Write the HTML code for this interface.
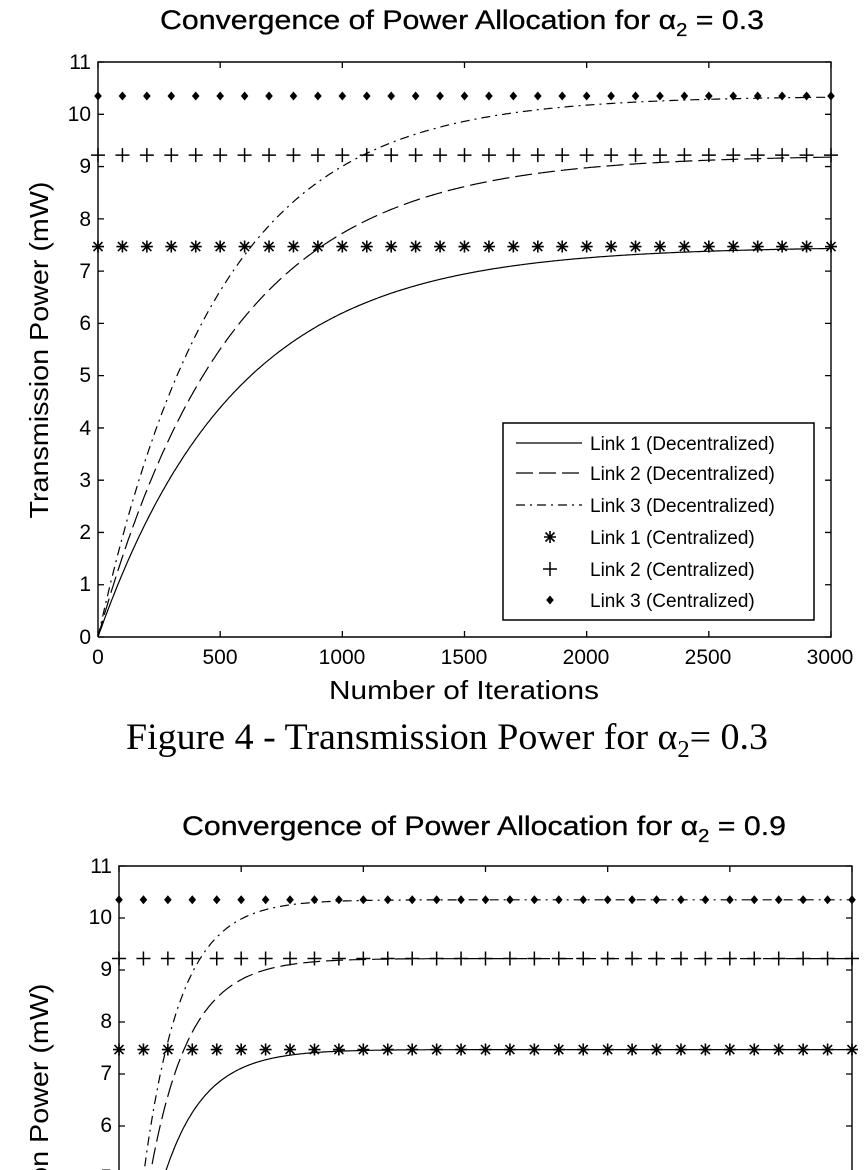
<!DOCTYPE html>
<html><head><meta charset="utf-8"><style>
html,body{margin:0;padding:0;background:#fff;overflow:hidden;width:865px;height:1170px;}
svg{display:block;}
text{font-family:"Liberation Sans",Arial,sans-serif;fill:#000;}
.serif{font-family:"Liberation Serif","Times New Roman",serif;}
</style></head><body>
<svg id="s" width="865" height="1170" viewBox="0 0 865 1170" xmlns="http://www.w3.org/2000/svg" overflow="hidden">
<rect width="865" height="1170" fill="#fff"/>
<!-- Top chart texts -->
<text x="160" y="29" font-size="27" textLength="604" lengthAdjust="spacingAndGlyphs" stroke="#000" stroke-width="0.3">Convergence of Power Allocation for α<tspan font-size="18" dy="7">2</tspan><tspan dy="-7"> = 0.3</tspan></text>
<g font-size="21" text-anchor="end">
<text x="91" y="69">11</text><text x="91" y="121">10</text><text x="91" y="173">9</text><text x="91" y="226">8</text><text x="91" y="278">7</text><text x="91" y="330">6</text><text x="91" y="382">5</text><text x="91" y="435">4</text><text x="91" y="487">3</text><text x="91" y="539">2</text><text x="91" y="591">1</text><text x="91" y="644">0</text>
</g>
<g font-size="21" text-anchor="middle">
<text x="98" y="664">0</text><text x="220" y="664">500</text><text x="342" y="664">1000</text><text x="464" y="664">1500</text><text x="586" y="664">2000</text><text x="708" y="664">2500</text><text x="830" y="664">3000</text>
</g>
<text x="329" y="699" font-size="26" textLength="270" lengthAdjust="spacingAndGlyphs">Number of Iterations</text>
<text transform="translate(48,350) rotate(-90)" font-size="26" text-anchor="middle" textLength="337" lengthAdjust="spacingAndGlyphs">Transmission Power (mW)</text>
<text class="serif" x="126" y="749" font-size="37" textLength="642" lengthAdjust="spacingAndGlyphs">Figure 4 - Transmission Power for α<tspan font-size="24" dy="8">2</tspan><tspan dy="-8">= 0.3</tspan></text>
<!-- Bottom chart texts -->
<text x="182" y="835" font-size="27" textLength="604" lengthAdjust="spacingAndGlyphs" stroke="#000" stroke-width="0.3">Convergence of Power Allocation for α<tspan font-size="18" dy="7">2</tspan><tspan dy="-7"> = 0.9</tspan></text>
<g font-size="21" text-anchor="end">
<text x="112" y="873">11</text><text x="112" y="924">10</text><text x="112" y="976">9</text><text x="112" y="1028">8</text><text x="112" y="1080">7</text><text x="112" y="1132">6</text><text x="112" y="1184">5</text>
</g>
<text transform="translate(48,1152) rotate(-90)" font-size="26" text-anchor="middle" textLength="337" lengthAdjust="spacingAndGlyphs">Transmission Power (mW)</text>
<g id="plots"></g>
<!-- Legend -->
<rect x="503" y="423" width="311" height="197" fill="#fff" stroke="#000" stroke-width="1.5"/>
<g stroke="#000" stroke-width="1.2" fill="none">
<line x1="516" y1="443" x2="582" y2="443"/>
<line x1="516" y1="473" x2="582" y2="473" stroke-dasharray="17,6"/>
<line x1="516" y1="505" x2="582" y2="505" stroke-dasharray="9,5,2,5"/>
</g>
<g id="legm"></g>
<g font-size="19">
<text x="590" y="450">Link 1 (Decentralized)</text>
<text x="590" y="480">Link 2 (Decentralized)</text>
<text x="590" y="512">Link 3 (Decentralized)</text>
<text x="590" y="544">Link 1 (Centralized)</text>
<text x="590" y="576">Link 2 (Centralized)</text>
<text x="590" y="607">Link 3 (Centralized)</text>
</g>
</svg>
<script>
(function(){
var NS="http://www.w3.org/2000/svg";
var plots=document.getElementById("plots");
function el(tag,attrs,parent){var e=document.createElementNS(NS,tag);for(var k in attrs)e.setAttribute(k,attrs[k]);(parent||plots).appendChild(e);return e;}
function star(x,y,p){var d="M"+(x-6)+" "+y+"h12M"+x+" "+(y-6)+"v12M"+(x-4.5)+" "+(y-4.5)+"l9 9M"+(x-4.5)+" "+(y+4.5)+"l9 -9";el("path",{d:d,stroke:"#000","stroke-width":1.6,fill:"none"},p);}
function plus(x,y,p){var d="M"+(x-7)+" "+y+"h14M"+x+" "+(y-7)+"v14";el("path",{d:d,stroke:"#000","stroke-width":1.5,fill:"none"},p);}
function dia(x,y,p){el("path",{d:"M"+x+" "+(y-4.5)+"L"+(x+3.8)+" "+y+"L"+x+" "+(y+4.5)+"L"+(x-3.8)+" "+y+"Z",fill:"#000"},p);}
function chart(L,R,T,B,unit,taus,clipBottom,showBottomTicks){
  var X=function(t){return L+t*(R-L)/3000;};
  var Y=function(v){return B-v*unit;};
  var cid="c"+L;
  var cp=el("clipPath",{id:cid});el("rect",{x:L,y:T,width:R-L,height:Math.min(B,clipBottom)-T},cp);
  var g=el("g",{"clip-path":"url(#"+cid+")"});
  var P=[7.47,9.22,10.35],dash=["none","17,6","9,5,2,5"];
  for(var i=0;i<3;i++){var pts=[];for(var t=0;t<=3000;t+=5){pts.push(X(t).toFixed(1)+","+Y(P[i]*(1-Math.exp(-t/taus[i]))).toFixed(1));}
    var a={points:pts.join(" "),fill:"none",stroke:"#000","stroke-width":1.2};if(dash[i]!="none")a["stroke-dasharray"]=dash[i];el("polyline",a,g);}
  for(var k=0;k<=30;k++){var x=X(k*100);star(x,Y(7.47));plus(x,Y(9.22));dia(x,Y(10.35));}
  el("path",{d:"M"+L+" "+B+"V"+T+"H"+R+"V"+B+(showBottomTicks?"H"+L:""),fill:"none",stroke:"#000","stroke-width":1.4});
  var d="";
  for(var v=0;v<=11;v++){var y=Y(v);if(y>1170)continue;d+="M"+L+" "+y+"h6M"+R+" "+y+"h-6";}
  for(var k=0;k<=6;k++){var x=X(k*500);d+="M"+x+" "+T+"v6";if(showBottomTicks)d+="M"+x+" "+B+"v-6";}
  el("path",{d:d,stroke:"#000","stroke-width":1.3,fill:"none"});
}
chart(98,831,62,637,52.27,[565,550,490],637,true);
chart(119,852,866,1438,52,[165,160,150],1170,false);
var lg=document.getElementById("legm");
star(550,537,lg);plus(550,569,lg);dia(550,600,lg);
})();
</script>
</body></html>
